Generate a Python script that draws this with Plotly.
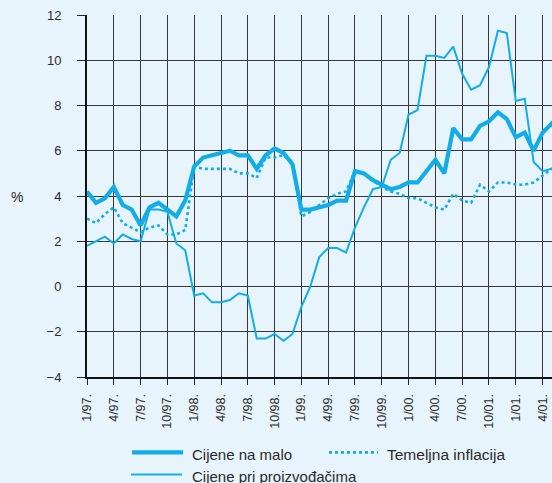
import plotly.graph_objects as go

# month index 0 = 1/97
months = list(range(54))
tick_idx = list(range(0, 52, 3))
tick_labels = ["1/97.", "4/97.", "7/97.", "10/97.", "1/98.", "4/98.", "7/98.", "10/98.",
               "1/99.", "4/99.", "7/99.", "10/99.", "1/00.", "4/00.", "7/00.", "10/01.",
               "1/01.", "4/01."]

retail = [4.2, 3.7, 3.9, 4.4, 3.6, 3.4, 2.7, 3.5, 3.7, 3.4, 3.1, 3.8,
          5.3, 5.7, 5.8, 5.9, 6.0, 5.8, 5.8, 5.2, 5.8, 6.1, 5.9, 5.4,
          3.4, 3.4, 3.5, 3.6, 3.8, 3.8, 5.1, 5.0, 4.7, 4.5, 4.3, 4.4,
          4.6, 4.6, 5.1, 5.6, 5.0, 7.0, 6.5, 6.5, 7.1, 7.3, 7.7, 7.4,
          6.6, 6.8, 6.0, 6.8, 7.2, 6.7]
core = [3.0, 2.8, 3.2, 3.5, 2.8, 2.6, 2.4, 2.6, 2.7, 2.3, 2.3, 2.5,
        5.3, 5.2, 5.2, 5.2, 5.2, 5.0, 5.0, 4.8, 5.7, 5.7, 5.8, 5.5,
        3.1, 3.3, 3.6, 3.9, 4.1, 4.2, 5.1, 5.0, 4.7, 4.4, 4.2, 4.1,
        3.9, 3.9, 3.7, 3.5, 3.4, 4.1, 3.8, 3.7, 4.5, 4.2, 4.6, 4.6,
        4.5, 4.5, 4.6, 4.9, 5.2, 5.2]
producer = [1.8, 2.0, 2.2, 1.9, 2.3, 2.1, 2.0, 3.4, 3.4, 3.3, 1.9, 1.6,
            -0.4, -0.3, -0.7, -0.7, -0.6, -0.3, -0.4, -2.3, -2.3, -2.1, -2.4, -2.1,
            -0.9, 0.0, 1.3, 1.7, 1.7, 1.5, 2.6, 3.5, 4.3, 4.4, 5.6, 5.9,
            7.6, 7.8, 10.2, 10.2, 10.1, 10.6, 9.4, 8.7, 8.9, 9.7, 11.3, 11.2,
            8.2, 8.3, 5.5, 5.1, 5.2, 5.2]

series_names = ["Cijene na malo", "Temeljna inflacija", "Cijene pri proizvođačima"]

BLUE = "#12ADE8"
BG = "#E8F4FC"
TXT = "#2a2a2a"
GRID = "#383838"
FONT = "Liberation Sans"

W, H = 552, 483
L, T, R, B = 87, 15, 0, 106.3
PW, PH = W - L - R, H - T - B

fig = go.Figure()
fig.add_trace(go.Scatter(x=months, y=retail, mode="lines", name=series_names[0],
                         line=dict(color=BLUE, width=4.2), showlegend=False))
fig.add_trace(go.Scatter(x=months, y=core, mode="lines", name=series_names[1],
                         line=dict(color=BLUE, width=2.6, dash="dot"), showlegend=False))
fig.add_trace(go.Scatter(x=months, y=producer, mode="lines", name=series_names[2],
                         line=dict(color=BLUE, width=2), showlegend=False))

def px(xp):
    return (xp - L) / PW

def py(yp):
    return (H - B - yp) / PH

shapes = [
    dict(type="line", xref="paper", yref="paper", x0=px(132), x1=px(183), y0=py(452), y1=py(452),
         line=dict(color=BLUE, width=4.2)),
    dict(type="line", xref="paper", yref="paper", x0=px(329), x1=px(378), y0=py(452), y1=py(452),
         line=dict(color=BLUE, width=2.6, dash="dot")),
    dict(type="line", xref="paper", yref="paper", x0=px(131), x1=px(182), y0=py(474), y1=py(474),
         line=dict(color=BLUE, width=2)),
]
annotations = [
    dict(text=series_names[0], xref="paper", yref="paper", x=px(190), y=py(454),
         xanchor="left", yanchor="middle", showarrow=False, font=dict(size=15, color=TXT, family=FONT)),
    dict(text=series_names[1], xref="paper", yref="paper", x=px(385), y=py(454),
         xanchor="left", yanchor="middle", showarrow=False, font=dict(size=15.5, color=TXT, family=FONT)),
    dict(text=series_names[2], xref="paper", yref="paper", x=px(190), y=py(476),
         xanchor="left", yanchor="middle", showarrow=False, font=dict(size=15, color=TXT, family=FONT)),
    dict(text="%", xref="paper", yref="paper", x=px(17), y=py(197),
         xanchor="center", yanchor="middle", showarrow=False, font=dict(size=14, color=TXT, family=FONT)),
]

fig.update_layout(
    width=W, height=H,
    margin=dict(l=L, r=R, t=T, b=B, pad=0),
    paper_bgcolor=BG, plot_bgcolor=BG,
    font=dict(family=FONT, color=TXT),
    shapes=shapes, annotations=annotations,
    xaxis=dict(range=[0, (W - L) / 8.933], tickmode="array", tickvals=tick_idx, ticktext=tick_labels,
               tickangle=-90, ticks="outside", ticklen=6, tickcolor="#222", tickwidth=1,
               showgrid=True, gridcolor=GRID, gridwidth=1,
               showline=True, linecolor="#111", linewidth=2, zeroline=False,
               ticklabelstandoff=4,
               tickfont=dict(size=12.5, color=TXT, family=FONT)),
    yaxis=dict(range=[-4, 12], tickmode="array", tickvals=list(range(-4, 13, 2)),
               ticks="outside", ticklen=8, tickcolor="#222", tickwidth=1,
               showgrid=True, gridcolor=GRID, gridwidth=1,
               showline=True, linecolor="#111", linewidth=2, zeroline=False,
               ticklabelstandoff=13,
               tickfont=dict(size=13, color=TXT, family=FONT)),
)

fig.write_html("out.html", config={"displayModeBar": False},
               post_script="document.body.style.margin='0';document.body.style.background='%s';" % BG)
